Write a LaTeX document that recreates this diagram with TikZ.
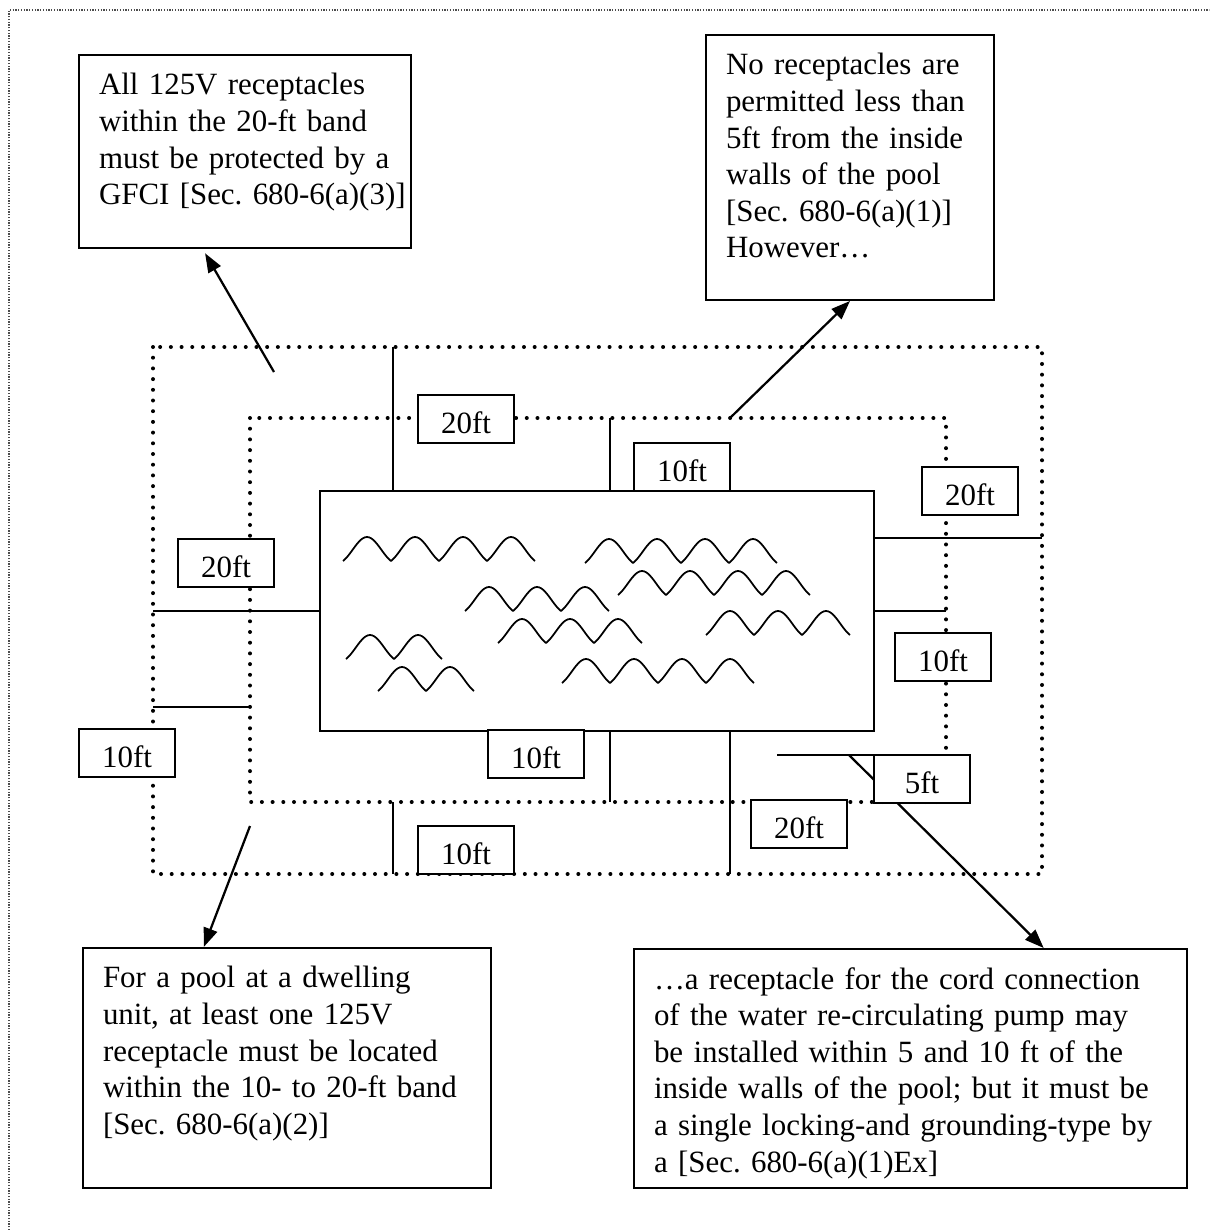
\documentclass[tikz,border=0pt]{standalone}
\usepackage{fontspec}
\setmainfont{Liberation Serif}
\usepackage{tikz}
\usetikzlibrary{arrows.meta,calc}

\begin{document}
\begin{tikzpicture}[x=0.2mm,y=-0.2mm]
        \tikzset{
            band/.style={line width=0.8mm, line cap=round, dash pattern=on 0pt off 2.14mm},
            wall/.style={line width=0.27mm},
            wave/.style={line width=0.35mm, line join=round},
            ftlabel/.style={draw, fill=white, line width=0.35mm, minimum width=19.3mm, minimum height=9.6mm, inner sep=0pt,
                text height=5.6mm, text depth=0pt, font=\fontsize{17.6}{20.8}\selectfont},
            note/.style={draw, line width=0.4mm, anchor=north west, align=left, inner xsep=4mm, inner ysep=3.7mm,
                font=\fontsize{17.6}{20.8}\selectfont\frenchspacing,
                execute at begin node={\rightskip=0pt plus 1fil minus 12mm}},
            callout/.style={line width=0.45mm, -{Triangle[length=3.8mm,width=2.8mm]}}
        }
        \useasboundingbox (0,0) rectangle (1209,1230);
        \draw[line width=0.25mm, black!70, dash pattern=on 0.25mm off 0.3mm] (9,1230) -- (9,10) -- (1209,10);
        \draw[band] (153,347) rectangle (1042,874);
        \draw[band] (250,418) rectangle (946,802);
        \draw[wall] (393,347) -- (393,491);
        \draw[wall] (610,418) -- (610,491);
        \draw[wall] (874,538) -- (1042,538);
        \draw[wall] (874,611) -- (946,611);
        \draw[wall] (153,611) -- (320,611);
        \draw[wall] (153,707) -- (250,707);
        \draw[wall] (610,731) -- (610,802);
        \draw[wall] (730,731) -- (730,874);
        \draw[wall] (393,802) -- (393,874);
        \draw[wall] (777,755) -- (874,755);
        \draw[line width=0.4mm] (320,491) rectangle (874,731);
        \draw[wave] plot[domain=0:192, samples=97] ({343+\x},{561-12*abs(sin(3.75*\x))-6*(1-cos(7.5*\x))});
        \draw[wave] plot[domain=0:192, samples=97] ({585+\x},{563-12*abs(sin(3.75*\x))-6*(1-cos(7.5*\x))});
        \draw[wave] plot[domain=0:192, samples=97] ({618+\x},{595-12*abs(sin(3.75*\x))-6*(1-cos(7.5*\x))});
        \draw[wave] plot[domain=0:144, samples=73] ({465+\x},{611-12*abs(sin(3.75*\x))-6*(1-cos(7.5*\x))});
        \draw[wave] plot[domain=0:144, samples=73] ({498+\x},{643-12*abs(sin(3.75*\x))-6*(1-cos(7.5*\x))});
        \draw[wave] plot[domain=0:144, samples=73] ({706+\x},{635-12*abs(sin(3.75*\x))-6*(1-cos(7.5*\x))});
        \draw[wave] plot[domain=0:96, samples=49] ({346+\x},{659-12*abs(sin(3.75*\x))-6*(1-cos(7.5*\x))});
        \draw[wave] plot[domain=0:96, samples=49] ({378+\x},{691-12*abs(sin(3.75*\x))-6*(1-cos(7.5*\x))});
        \draw[wave] plot[domain=0:192, samples=97] ({562+\x},{683-12*abs(sin(3.75*\x))-6*(1-cos(7.5*\x))});
        \node[note, text width=58.4mm, text depth=26.9mm] (gfci) at (78,54)
            {All 125V receptacles\\within the 20-ft band\\must be protected by a\\GFCI [Sec. 680-6(a)(3)]};
        \node[note, text width=49.6mm, text depth=41.3mm] (norec) at (705,34)
            {No receptacles are\\permitted less than\\5ft from the inside\\walls of the pool\\{[Sec. 680-6(a)(1)]}\\However…};
        \node[note, text width=73.6mm, text depth=36.3mm] (dwelling) at (82,947)
            {For a pool at a dwelling\\unit, at least one 125V\\receptacle must be located\\within the 10- to 20-ft band\\{[Sec. 680-6(a)(2)]}};
        \node[note, text width=102.6mm, text depth=36.1mm] (pump) at (633,948)
            {…a receptacle for the cord connection\\of the water re-circulating pump may\\be installed within 5 and 10 ft of the\\inside walls of the pool; but it must be\\a single locking-and grounding-type by\\a [Sec. 680-6(a)(1)Ex]};
        \coordinate (gfcitail) at (274,372);
        \coordinate (noretail) at (730,418);
        \coordinate (dwelltail) at (250,826);
        \coordinate (pumptail) at (849,755);
        \draw[callout, shorten >=1mm] (gfcitail) -- ($(gfci.south west)!0.373!(gfci.south east)$);
        \draw[callout] (noretail) -- (norec.south);
        \draw[callout] (dwelltail) -- ($(dwelling.north west)!0.297!(dwelling.north east)$);
        \draw[callout] (pumptail) -- ($(pump.north west)!0.74!(pump.north east)$);
        \node[ftlabel] (ltopouter) at (466,419) {20ft};
        \node[ftlabel] (ltopinner) at (682,467) {10ft};
        \node[ftlabel] (lrightouter) at (970,491) {20ft};
        \node[ftlabel] (lleftouter) at (226,563) {20ft};
        \node[ftlabel] (lrightinner) at (943,657) {10ft};
        \node[ftlabel] (lleftinner) at (127,753) {10ft};
        \node[ftlabel] (lpoolbelow) at (536,754) {10ft};
        \node[ftlabel] (lfive) at (922,779) {5ft};
        \node[ftlabel] (lbottomouter) at (799,824) {20ft};
        \node[ftlabel] (lbottominner) at (466,850) {10ft};
\end{tikzpicture}
\end{document}
